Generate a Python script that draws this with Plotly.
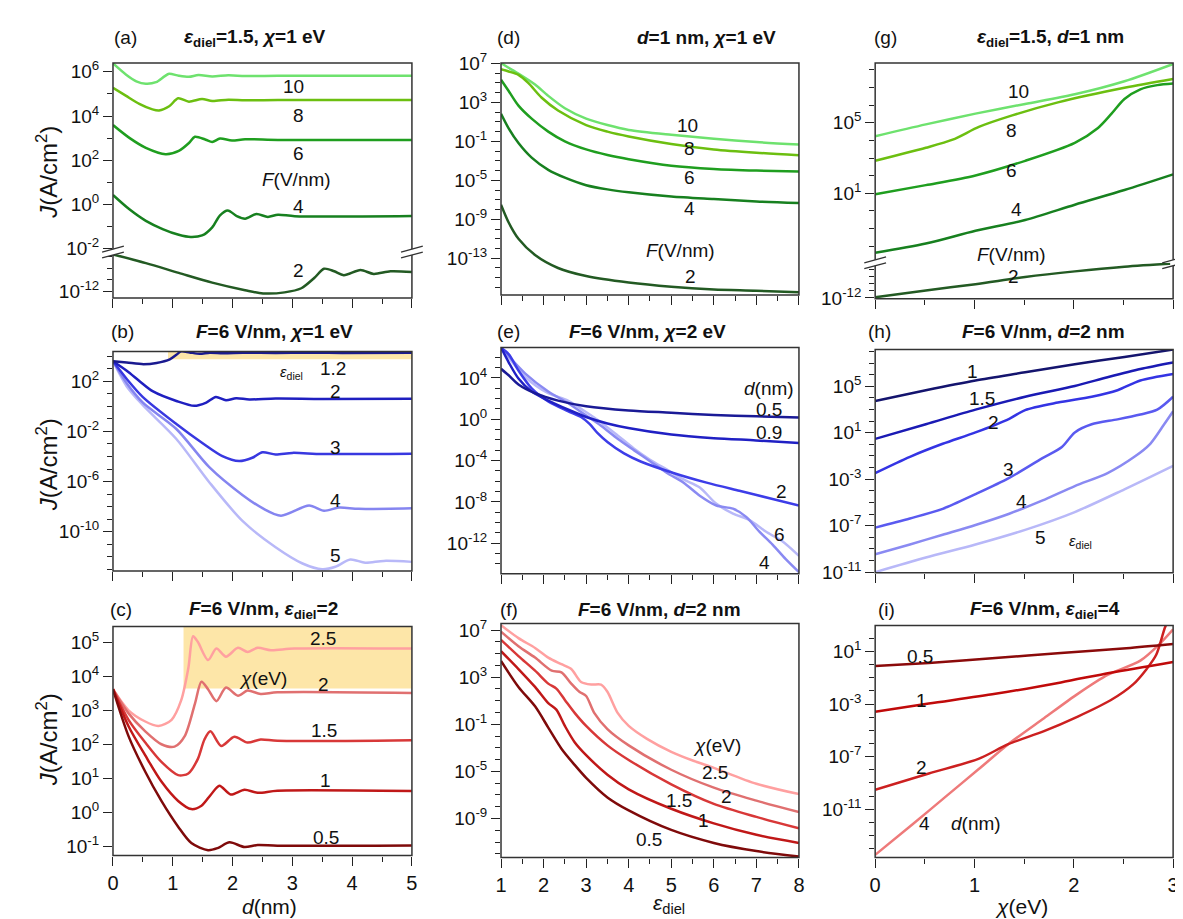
import plotly.graph_objects as go

W, H = 1183, 919
FONT = "Arial, Liberation Sans, sans-serif"

# ---------------- data (log10 of J in A/cm^2) ----------------
# (a) J vs d, eps_diel=1.5, chi=1 eV, curves labelled by F (V/nm)
A10_D = [0, 0.22, 0.39, 0.55, 0.72, 0.86, 0.94, 1.1, 1.27, 1.43, 1.66, 1.93, 2.21, 2.76, 3.86, 5.0]
A10_J = [6.38, 5.87, 5.57, 5.46, 5.53, 5.79, 5.91, 5.82, 5.77, 5.85, 5.79, 5.84, 5.81, 5.82, 5.82, 5.82]
A8_D = [0, 0.22, 0.44, 0.66, 0.77, 0.94, 1.09, 1.27, 1.49, 1.66, 1.93, 2.21, 2.76, 5.0]
A8_J = [5.28, 4.91, 4.55, 4.30, 4.25, 4.44, 4.80, 4.65, 4.77, 4.68, 4.74, 4.71, 4.72, 4.72]
A6_D = [0, 0.28, 0.55, 0.88, 1.1, 1.27, 1.37, 1.55, 1.66, 1.79, 1.99, 2.21, 2.76, 5.0]
A6_J = [3.59, 3.0, 2.56, 2.27, 2.42, 2.78, 3.06, 2.93, 2.83, 2.98, 2.89, 2.95, 2.92, 2.92]
A4_D = [0, 0.28, 0.55, 0.83, 1.1, 1.3, 1.49, 1.66, 1.79, 1.92, 2.07, 2.21, 2.4, 2.59, 2.76, 3.04, 5.0]
A4_J = [0.43, -0.23, -0.74, -1.11, -1.37, -1.47, -1.40, -1.03, -0.49, -0.27, -0.52, -0.64, -0.43, -0.56, -0.46, -0.53, -0.52]
A2_D = [0, 0.55, 1.1, 1.66, 2.21, 2.51, 2.87, 3.15, 3.37, 3.53, 3.7, 3.86, 4.14, 4.36, 4.64, 5.0]
A2_J = [-8.8, -9.56, -10.41, -11.26, -11.92, -12.2, -12.11, -11.75, -10.84, -10.05, -10.27, -10.61, -10.16, -10.5, -10.27, -10.33]

# (d) J vs eps_diel, d=1 nm, chi=1 eV
D10_E = [1, 1.26, 1.49, 1.8, 2.11, 2.5, 3, 3.5, 4, 5, 6, 7, 8]
D10_J = [7.03, 6.33, 5.73, 4.83, 3.67, 2.4, 1.33, 0.67, 0.17, -0.33, -0.73, -1.07, -1.33]
D8_E = [1, 1.18, 1.41, 1.64, 1.95, 2.34, 3, 3.5, 4, 5, 6, 7, 8]
D8_J = [6.4, 6.17, 5.83, 5.0, 3.5, 2.17, 0.67, 0.0, -0.5, -1.27, -1.83, -2.17, -2.43]
D6_E = [1, 1.18, 1.41, 1.72, 2.11, 2.5, 3, 3.5, 4, 5, 6, 7, 8]
D6_J = [5.33, 4.17, 2.67, 1.33, 0.0, -1.0, -1.83, -2.4, -2.83, -3.5, -3.83, -4.0, -4.1]
D4_E = [1, 1.18, 1.41, 1.72, 2.11, 2.5, 3, 3.5, 4, 5, 6, 7, 8]
D4_J = [1.83, 0.33, -1.17, -2.67, -3.93, -4.73, -5.5, -5.93, -6.23, -6.67, -6.93, -7.17, -7.33]
D2_E = [1, 1.18, 1.41, 1.8, 2.34, 3, 4, 5, 6, 7, 8]
D2_J = [-7.5, -9.33, -11.0, -12.67, -14.0, -14.83, -15.5, -15.93, -16.2, -16.33, -16.5]

# (g) J vs chi, eps_diel=1.5, d=1 nm
G10_C = [0, 0.51, 1.01, 1.51, 2.01, 2.51, 3.0]
G10_J = [4.23, 4.91, 5.52, 6.07, 6.62, 7.36, 8.34]
G8_C = [0, 0.51, 0.78, 1.05, 1.38, 1.84, 2.51, 3.0]
G8_J = [2.84, 3.58, 4.04, 4.78, 5.42, 6.16, 6.99, 7.49]
G6_C = [0, 0.51, 1.01, 1.51, 2.01, 2.24, 2.38, 2.51, 2.67, 2.84, 3.0]
G6_J = [0.94, 1.46, 2.01, 2.84, 3.86, 4.69, 5.52, 6.35, 6.9, 7.14, 7.23]
G4_C = [0, 0.51, 1.01, 1.51, 2.01, 2.51, 3.0]
G4_J = [-2.38, -1.86, -1.13, -0.52, 0.35, 1.18, 2.07]
G2_C = [0, 0.51, 1.01, 1.51, 2.01, 2.51, 3.0]
G2_J = [-11.91, -10.93, -10.04, -9.02, -8.22, -7.56, -7.11]

# (b) J vs d, F=6 V/nm, chi=1 eV, curves labelled by eps_diel
B12_D = [0, 0.23, 0.51, 0.73, 0.95, 1.06, 1.14, 1.28, 1.45, 1.62, 1.84, 2.17, 2.72, 3.27, 3.83, 5.0]
B12_J = [3.61, 3.51, 3.38, 3.48, 3.77, 4.13, 4.40, 4.32, 4.21, 4.30, 4.26, 4.29, 4.28, 4.29, 4.28, 4.29]
B2_D = [0, 0.23, 0.45, 0.67, 1.06, 1.36, 1.56, 1.72, 1.89, 2.06, 2.28, 2.72, 3.5, 5.0]
B2_J = [3.61, 2.85, 2.0, 1.2, 0.44, 0.05, 0.31, 0.75, 0.49, 0.65, 0.56, 0.63, 0.6, 0.62]
B3_D = [0, 0.23, 0.5, 1.06, 1.5, 1.83, 2.11, 2.33, 2.5, 2.72, 3.0, 3.5, 5.0]
B3_J = [3.61, 2.2, 0.75, -1.4, -2.94, -3.97, -4.36, -4.1, -3.66, -3.84, -3.71, -3.8, -3.77]
B4_D = [0, 0.23, 0.5, 1.06, 1.61, 2.17, 2.5, 2.81, 3.28, 3.53, 3.78, 4.11, 5.0]
B4_J = [3.61, 1.85, 0.3, -1.8, -4.85, -7.09, -8.13, -8.73, -7.92, -8.34, -8.08, -8.18, -8.13]
B5_D = [0, 0.23, 0.5, 1.06, 1.61, 2.17, 2.72, 3.17, 3.5, 3.72, 3.97, 4.22, 4.53, 5.0]
B5_J = [3.61, 1.6, 0.1, -2.6, -6.05, -9.17, -11.25, -12.55, -13.01, -12.81, -12.23, -12.49, -12.34, -12.42]

# (e) J vs eps_diel, F=6 V/nm, chi=2 eV, curves labelled by d (nm)
E05_E = [1, 1.18, 1.41, 1.8, 2.34, 3, 4, 5, 6, 7, 8]
E05_J = [4.88, 4.25, 3.37, 2.52, 1.80, 1.26, 0.85, 0.63, 0.41, 0.28, 0.16]
E09_E = [1, 1.18, 1.41, 1.72, 2.11, 2.57, 3.0, 3.5, 3.99, 5.0, 6.0, 6.99, 8.0]
E09_J = [6.93, 5.51, 3.94, 2.68, 1.80, 0.94, 0.22, -0.41, -0.85, -1.48, -1.83, -2.05, -2.30]
E2_E = [1, 1.18, 1.41, 1.72, 2.11, 2.57, 2.88, 3.08, 3.27, 3.5, 3.89, 4.28, 5.05, 5.83, 6.6, 7.38, 8.0]
E2_J = [6.93, 6.30, 4.72, 2.99, 1.73, 0.79, 0.22, -0.45, -1.35, -2.20, -3.31, -4.09, -5.20, -6.14, -6.93, -7.72, -8.35]
E4_E = [1, 1.57, 2.11, 2.57, 2.96, 3.35, 3.74, 4.12, 4.51, 4.90, 5.29, 5.67, 6.06, 6.45, 6.76, 7.07, 7.38, 7.69, 8.0]
E4_J = [6.93, 4.41, 2.68, 1.57, 0.47, -0.63, -1.89, -2.99, -4.09, -5.20, -6.14, -7.40, -8.35, -8.66, -9.45, -10.87, -12.13, -13.54, -14.80]
E6_E = [1, 1.57, 2.11, 2.57, 2.96, 3.35, 3.74, 4.12, 4.51, 4.90, 5.29, 5.67, 6.06, 6.45, 6.84, 7.22, 7.61, 8.0]
E6_J = [6.93, 4.09, 2.52, 1.80, 0.79, -0.31, -1.57, -2.83, -3.94, -4.88, -5.83, -6.61, -8.19, -9.13, -9.76, -10.87, -11.81, -13.23]

# (h) J vs chi, F=6 V/nm, d=2 nm, curves labelled by eps_diel
H1_C = [0, 0.51, 1.01, 1.51, 2.01, 2.51, 3.0]
H1_J = [3.74, 4.66, 5.5, 6.2, 6.9, 7.52, 8.16]
H15_C = [0, 0.51, 1.01, 1.51, 2.01, 2.34, 2.67, 3.0]
H15_J = [0.47, 1.73, 2.99, 4.1, 5.03, 5.78, 6.48, 7.04]
H2_C = [0, 0.35, 0.68, 1.01, 1.35, 1.51, 1.84, 2.18, 2.44, 2.67, 3.0]
H2_J = [-2.47, -1.07, 0.05, 1.03, 2.2, 2.95, 3.6, 4.1, 4.66, 5.5, 6.06]
H3_C = [0, 0.35, 0.68, 1.01, 1.35, 1.68, 1.88, 2.01, 2.18, 2.44, 2.67, 2.84, 3.0]
H3_J = [-7.17, -6.38, -5.55, -4.29, -2.89, -1.21, -0.23, 1.03, 1.73, 2.15, 2.57, 2.99, 4.1]
H4_C = [0, 0.35, 0.68, 1.01, 1.35, 1.68, 2.01, 2.34, 2.61, 2.77, 2.91, 3.0]
H4_J = [-9.46, -8.62, -7.78, -6.94, -5.97, -4.85, -3.59, -2.47, -1.07, 0.05, 1.73, 2.85]
H5_C = [0, 0.51, 1.01, 1.51, 2.01, 2.51, 3.0]
H5_J = [-11.0, -9.74, -8.62, -7.36, -5.83, -3.87, -1.85]

# (c) J vs d, F=6 V/nm, eps_diel=2, curves labelled by chi (eV)
C25_D = [0, 0.26, 0.54, 0.76, 0.98, 1.14, 1.26, 1.34, 1.42, 1.59, 1.73, 1.89, 2.09, 2.25, 2.42, 2.64, 3.03, 5.0]
C25_J = [3.63, 3.01, 2.68, 2.55, 2.73, 3.30, 4.25, 5.19, 5.02, 4.49, 4.83, 4.59, 4.85, 4.73, 4.85, 4.78, 4.83, 4.83]
C2_D = [0, 0.26, 0.54, 0.81, 1.03, 1.2, 1.37, 1.48, 1.59, 1.73, 1.89, 2.09, 2.25, 2.47, 2.75, 5.0]
C2_J = [3.63, 2.92, 2.39, 2.01, 1.94, 2.25, 3.20, 3.85, 3.63, 3.28, 3.68, 3.44, 3.59, 3.49, 3.54, 3.52]
C15_D = [0, 0.26, 0.54, 0.81, 1.09, 1.26, 1.42, 1.53, 1.63, 1.81, 2.03, 2.25, 2.47, 2.75, 5.0]
C15_J = [3.63, 2.73, 2.06, 1.49, 1.10, 1.15, 1.58, 2.15, 2.39, 1.96, 2.23, 2.06, 2.15, 2.11, 2.13]
C1_D = [0, 0.26, 0.54, 0.81, 1.09, 1.31, 1.48, 1.64, 1.78, 1.97, 2.2, 2.42, 2.75, 5.0]
C1_J = [3.63, 2.54, 1.68, 0.91, 0.34, 0.10, 0.20, 0.53, 0.79, 0.53, 0.67, 0.58, 0.64, 0.63]
C05_D = [0, 0.26, 0.54, 0.81, 1.09, 1.31, 1.59, 1.75, 1.95, 2.2, 2.42, 2.75, 5.0]
C05_J = [3.63, 2.25, 1.20, 0.34, -0.42, -0.90, -1.11, -1.05, -0.88, -1.02, -0.96, -0.98, -0.97]

# (f) J vs eps_diel, F=6 V/nm, d=2 nm, curves labelled by chi (eV)
F25_E = [1, 1.41, 1.8, 2.11, 2.42, 2.65, 2.88, 3.12, 3.35, 3.5, 3.74, 4, 4.43, 5, 5.52, 6, 7, 8]
F25_J = [7.41, 6.31, 5.48, 4.66, 4.10, 3.69, 2.59, 2.37, 2.37, 1.76, -0.03, -1.14, -2.24, -3.34, -4.10, -4.70, -6.05, -6.93]
F2_E = [1, 1.41, 1.8, 2.19, 2.42, 2.65, 2.84, 3, 3.19, 3.5, 4, 5, 6, 7, 8]
F2_J = [6.86, 5.62, 4.66, 3.55, 3.41, 2.45, 1.76, 1.4, -0.03, -1.41, -2.79, -4.86, -6.38, -7.48, -8.45]
F15_E = [1, 1.41, 1.8, 2.11, 2.3, 2.5, 2.73, 3, 3.5, 4, 5, 6, 7, 8]
F15_J = [6.17, 4.79, 3.55, 2.45, 2.03, 1.07, -0.03, -1.14, -2.79, -4.03, -6.10, -7.76, -8.86, -9.83]
F1_E = [1, 1.41, 1.8, 2.11, 2.3, 2.5, 2.73, 3, 3.5, 4, 5, 6, 7, 8]
F1_J = [5.21, 3.69, 2.17, 0.79, 0.24, -1.14, -2.52, -3.62, -5.28, -6.52, -8.17, -9.41, -10.38, -11.07]
F05_E = [1, 1.41, 1.8, 2.11, 2.42, 2.73, 3, 3.5, 4, 5, 6, 7, 8]
F05_J = [4.38, 2.17, 0.52, -1.28, -3.07, -4.45, -5.55, -7.21, -8.31, -9.97, -11.07, -11.76, -12.23]

# (i) J vs chi, F=6 V/nm, eps_diel=4, curves labelled by d (nm)
I05_C = [0, 0.54, 1.21, 1.87, 2.53, 3.0]
I05_J = [-0.11, 0.13, 0.5, 0.88, 1.25, 1.57]
I1_C = [0, 0.54, 1.21, 1.87, 2.37, 3.0]
I1_J = [-3.58, -2.96, -2.22, -1.35, -0.61, 0.21]
I2_C = [0, 0.54, 1.04, 1.34, 1.7, 2.04, 2.37, 2.6, 2.73, 2.83, 2.92, 2.97]
I2_J = [-9.52, -8.28, -7.17, -6.05, -5.06, -3.95, -2.71, -1.48, -0.36, 0.75, 2.86, 3.6]
I4_C = [0, 0.38, 0.71, 1.04, 1.34, 1.7, 2.04, 2.34, 2.67, 2.87, 3.0]
I4_J = [-14.47, -12.12, -10.04, -7.96, -6.05, -4.07, -2.22, -0.78, 0.31, 1.62, 2.68]

# shaded regions: (x0, logJ0) - lower-left corners
B_SHADE = [0.92, 3.77]
C_SHADE = [1.18, 3.65]

# colours
GREENS = ['#6ee26e', '#6cbf10', '#1f9e1f', '#17801f', '#235a23']
SHADE = '#fde6a8'

# ---------------- geometry helpers ----------------
def fx(px):
    return px / W

def fy(py):
    return 1 - py / H

fig = go.Figure()

def add(xs, logs, color, xa, ya, width=2.5):
    fig.add_trace(go.Scatter(
        x=xs, y=[10 ** v for v in logs], mode='lines',
        line=dict(color=color, width=width, shape='spline', smoothing=0.8),
        xaxis=xa, yaxis=ya, hoverinfo='skip', showlegend=False))

def yax(dom, rng, majors, minors, anchor):
    return dict(type='log', domain=[fy(dom[1]), fy(dom[0])], range=rng, anchor=anchor,
                tickmode='array', tickvals=[10.0 ** m for m in majors],
                ticktext=['10<sup>%d</sup>' % m for m in majors],
                ticks='outside', ticklen=9, tickwidth=1.3, tickcolor='#222',
                minor=dict(tickmode='array', tickvals=[10.0 ** m for m in minors],
                           ticks='outside', ticklen=5, tickwidth=1.1, tickcolor='#222', showgrid=False),
                showgrid=False, zeroline=False, showline=False,
                tickfont=dict(size=19, family=FONT, color='#111'), fixedrange=True)

def xax(dom, rng, majors, minors, anchor, labels):
    return dict(domain=[fx(dom[0]), fx(dom[1])], range=rng, anchor=anchor,
                tickmode='array', tickvals=majors, ticktext=[str(m) for m in majors],
                showticklabels=labels, ticks='outside', ticklen=9, tickwidth=1.3, tickcolor='#222',
                minor=dict(tickmode='array', tickvals=minors, ticks='outside', ticklen=5,
                           tickwidth=1.1, tickcolor='#222', showgrid=False),
                showgrid=False, zeroline=False, showline=False,
                tickfont=dict(size=20, family=FONT, color='#111'), fixedrange=True)

COL1, COL2, COL3 = [100, 402], [492, 793], [870, 1171]
X1_MAJ, X1_MIN = [0, 1, 2, 3, 4, 5], [0.5, 1.5, 2.5, 3.5, 4.5]
X2_MAJ, X2_MIN = [1, 2, 3, 4, 5, 6, 7, 8], [1.5, 2.5, 3.5, 4.5, 5.5, 6.5, 7.5]
X3_MAJ, X3_MIN = [0, 1, 2, 3], [0.5, 1.5, 2.5]

def others(lo, hi, majors):
    return [k for k in range(lo, hi + 1) if k not in majors]

lay = {}
# (a)
lay['xaxis'] = xax(COL1, [0, 5], X1_MAJ, X1_MIN, 'y2', False)
lay['yaxis'] = yax([43, 237], [-2.15, 6.4], [6, 4, 2, 0, -2], [5, 3, 1, -1], 'x')
lay['yaxis2'] = yax([237, 284], [-12.59, -8.6], [-12], [-11, -10, -9], 'x')
# (d)
lay['xaxis2'] = xax(COL2, [1, 8], X2_MAJ, X2_MIN, 'y3', False)
lay['yaxis3'] = yax([43, 281], [-16.77, 7.05], [7, 3, -1, -5, -9, -13], others(-16, 7, [7, 3, -1, -5, -9, -13]), 'x2')
# (g)
lay['xaxis3'] = xax(COL3, [0, 3], X3_MAJ, X3_MIN, 'y5', False)
lay['yaxis4'] = yax([43, 248], [-2.95, 8.4], [5, 1, -3], [8, 7, 6, 4, 3, 2, 0, -1, -2], 'x3')
lay['yaxis5'] = yax([248, 285], [-12.13, -7.0], [-12], [-11, -10, -9, -8], 'x3')
# (b)
lay['xaxis4'] = xax(COL1, [0, 5], X1_MAJ, X1_MIN, 'y6', False)
lay['yaxis6'] = yax([339, 564], [-13.14, 4.39], [2, -2, -6, -10], others(-13, 4, [2, -2, -6, -10]), 'x4')
# (e)
lay['xaxis5'] = xax(COL2, [1, 8], X2_MAJ, X2_MIN, 'y7', False)
lay['yaxis7'] = yax([335, 567], [-14.96, 6.93], [4, 0, -4, -8, -12], others(-14, 6, [4, 0, -4, -8, -12]), 'x5')
# (h)
lay['xaxis6'] = xax(COL3, [0, 3], X3_MAJ, X3_MIN, 'y8', False)
lay['yaxis8'] = yax([337, 566], [-11.06, 8.16], [5, 1, -3, -7, -11], others(-10, 8, [5, 1, -3, -7, -11]), 'x6')
# (c)
lay['xaxis7'] = xax(COL1, [0, 5], X1_MAJ, X1_MIN, 'y9', True)
lay['yaxis9'] = yax([621, 856], [-1.27, 5.48], [5, 4, 3, 2, 1, 0, -1], [], 'x7')
# (f)
lay['xaxis8'] = xax(COL2, [1, 8], X2_MAJ, X2_MIN, 'y10', True)
lay['yaxis10'] = yax([618, 858], [-12.31, 7.55], [7, 3, -1, -5, -9], others(-12, 7, [7, 3, -1, -5, -9]), 'x8')
# (i)
lay['xaxis9'] = xax(COL3, [0, 3], X3_MAJ, X3_MIN, 'y11', True)
lay['yaxis11'] = yax([620, 858], [-14.67, 2.98], [1, -3, -7, -11], others(-14, 2, [1, -3, -7, -11]), 'x9')

# ---------------- traces ----------------
# (a)
add(A10_D, A10_J, GREENS[0], 'x', 'y')
add(A8_D, A8_J, GREENS[1], 'x', 'y')
add(A6_D, A6_J, GREENS[2], 'x', 'y')
add(A4_D, A4_J, GREENS[3], 'x', 'y')
add(A2_D, A2_J, GREENS[4], 'x', 'y2')
# (d)
add(D10_E, D10_J, GREENS[0], 'x2', 'y3')
add(D8_E, D8_J, GREENS[1], 'x2', 'y3')
add(D6_E, D6_J, GREENS[2], 'x2', 'y3')
add(D4_E, D4_J, GREENS[3], 'x2', 'y3')
add(D2_E, D2_J, GREENS[4], 'x2', 'y3')
# (g)
add(G10_C, G10_J, GREENS[0], 'x3', 'y4')
add(G8_C, G8_J, GREENS[1], 'x3', 'y4')
add(G6_C, G6_J, GREENS[2], 'x3', 'y4')
add(G4_C, G4_J, GREENS[3], 'x3', 'y4')
add(G2_C, G2_J, GREENS[4], 'x3', 'y5')
# (b)
add(B5_D, B5_J, '#b8b8f8', 'x4', 'y6')
add(B4_D, B4_J, '#8585f0', 'x4', 'y6')
add(B3_D, B3_J, '#3838e0', 'x4', 'y6')
add(B2_D, B2_J, '#1f1fc0', 'x4', 'y6')
add(B12_D, B12_J, '#1a1a90', 'x4', 'y6')
# (e)
add(E6_E, E6_J, '#b8b8f8', 'x5', 'y7')
add(E4_E, E4_J, '#8a8af2', 'x5', 'y7')
add(E2_E, E2_J, '#3d3de8', 'x5', 'y7')
add(E09_E, E09_J, '#2020c4', 'x5', 'y7')
add(E05_E, E05_J, '#1a1a96', 'x5', 'y7')
# (h)
add(H5_C, H5_J, '#b8b8f8', 'x6', 'y8')
add(H4_C, H4_J, '#8a8af2', 'x6', 'y8')
add(H3_C, H3_J, '#5a5af0', 'x6', 'y8')
add(H2_C, H2_J, '#3434e4', 'x6', 'y8')
add(H15_C, H15_J, '#1a1ab4', 'x6', 'y8')
add(H1_C, H1_J, '#14146e', 'x6', 'y8')
# (c)
add(C25_D, C25_J, '#ffa0a0', 'x7', 'y9')
add(C2_D, C2_J, '#e07070', 'x7', 'y9')
add(C15_D, C15_J, '#d83838', 'x7', 'y9')
add(C1_D, C1_J, '#c01818', 'x7', 'y9')
add(C05_D, C05_J, '#7f0a0a', 'x7', 'y9')
# (f)
add(F25_E, F25_J, '#ffa0a0', 'x8', 'y10')
add(F2_E, F2_J, '#e07070', 'x8', 'y10')
add(F15_E, F15_J, '#d83838', 'x8', 'y10')
add(F1_E, F1_J, '#c01818', 'x8', 'y10')
add(F05_E, F05_J, '#7f0a0a', 'x8', 'y10')
# (i)
add(I4_C, I4_J, '#ee7a7a', 'x9', 'y11')
add(I2_C, I2_J, '#cc2020', 'x9', 'y11')
add(I1_C, I1_J, '#c00a0a', 'x9', 'y11')
add(I05_C, I05_J, '#8b0a0a', 'x9', 'y11')

# ---------------- shapes ----------------
shapes = []
shapes.append(dict(type='rect', xref='x4', yref='y6', x0=B_SHADE[0], x1=5, y0=10 ** B_SHADE[1], y1=10 ** 4.39,
                   fillcolor=SHADE, line=dict(width=0), layer='below'))
shapes.append(dict(type='rect', xref='x7', yref='y9', x0=C_SHADE[0], x1=5, y0=10 ** C_SHADE[1], y1=10 ** 5.48,
                   fillcolor=SHADE, line=dict(width=0), layer='below'))

frames = [(COL1, [43, 284]), (COL2, [43, 281]), (COL3, [43, 285]),
          (COL1, [339, 564]), (COL2, [335, 567]), (COL3, [337, 566]),
          (COL1, [621, 856]), (COL2, [618, 858]), (COL3, [620, 858])]
for (cx, cy) in frames:
    shapes.append(dict(type='rect', xref='paper', yref='paper', x0=fx(cx[0]), x1=fx(cx[1]),
                       y0=fy(cy[1]), y1=fy(cy[0]), line=dict(color='#333', width=1.5),
                       fillcolor='rgba(0,0,0,0)', layer='above'))

# axis-break marks
for (bx, by) in [(100, 237), (402, 237), (870, 248), (1171, 248)]:
    shapes.append(dict(type='rect', xref='paper', yref='paper', x0=fx(bx - 3), x1=fx(bx + 3),
                       y0=fy(by + 3), y1=fy(by - 3), fillcolor='white', line=dict(width=0), layer='above'))
    for off in (-3, 3):
        shapes.append(dict(type='line', xref='paper', yref='paper', x0=fx(bx - 11), x1=fx(bx + 11),
                           y0=fy(by + off + 3), y1=fy(by + off - 3), line=dict(color='#333', width=1.3),
                           layer='above'))

# ---------------- annotations ----------------
ann = []

def txt(s, x, y, size=17, angle=0, color='#111'):
    ann.append(dict(text=s, x=fx(x), y=fy(y), xref='paper', yref='paper', showarrow=False,
                    font=dict(size=size, family=FONT, color=color), xanchor='center', yanchor='middle',
                    textangle=angle))

FV = '<i>F</i>(V/nm)'
EPS = '<i>ε</i><sub>diel</sub>'
CHI = '<i>χ</i>(eV)'
DNM = '<i>d</i>(nm)'

for s, x, y in [('(a)', 113, 17), ('(d)', 500, 17), ('(g)', 880, 17),
                ('(b)', 110, 318), ('(e)', 500, 318), ('(h)', 874, 318),
                ('(c)', 108, 604), ('(f)', 500, 604), ('(i)', 881, 604)]:
    txt(s, x, y, size=19)
for s, x, y in [('<b>' + EPS + '=1.5, <i>χ</i>=1 eV</b>', 243, 17),
                ('<b><i>d</i>=1 nm, <i>χ</i>=1 eV</b>', 700, 17),
                ('<b>' + EPS + '=1.5, <i>d</i>=1 nm</b>', 1047, 17),
                ('<b><i>F</i>=6 V/nm, <i>χ</i>=1 eV</b>', 263, 318),
                ('<b><i>F</i>=6 V/nm, <i>χ</i>=2 eV</b>', 640, 318),
                ('<b><i>F</i>=6 V/nm, <i>d</i>=2 nm</b>', 1040, 318),
                ('<b><i>F</i>=6 V/nm, ' + EPS + '=2</b>', 252, 604),
                ('<b><i>F</i>=6 V/nm, <i>d</i>=2 nm</b>', 652, 604),
                ('<b><i>F</i>=6 V/nm, ' + EPS + '=4</b>', 1042, 604)]:
    txt(s, x, y, size=19)

for y in (155, 455, 737):
    txt('<i>J</i>(A/cm<sup>2</sup>)', 33, y, size=24, angle=-90)
txt(DNM, 258, 908, size=21)
txt(EPS, 662, 906, size=21)
txt(CHI, 1018, 908, size=21)

labels = [
    # (a)
    ('10', 282, 67), ('8', 287, 97), ('6', 287, 136), (FV, 285, 163), ('4', 287, 190), ('2', 287, 256),
    # (d)
    ('10', 680, 107), ('8', 682, 131), ('6', 682, 161), ('4', 682, 192), (FV, 673, 235), ('2', 683, 262),
    # (g)
    ('10', 1015, 72), ('8', 1008, 112), ('6', 1008, 153), ('4', 1013, 193), (FV, 1008, 240), ('2', 1010, 262),
    # (b)
    (EPS, 280, 361), ('1.2', 322, 356), ('2', 325, 380), ('3', 325, 437), ('4', 325, 492), ('5', 325, 548),
    # (e)
    (DNM, 763, 377), ('0.5', 763, 398), ('0.9', 763, 422), ('2', 775, 483), ('6', 773, 527), ('4', 758, 555),
    # (h)
    ('1', 968, 360), ('1.5', 978, 387), ('2', 990, 412), ('3', 1005, 460), ('4', 1018, 493), ('5', 1037, 530),
    (EPS, 1077, 534),
    # (c)
    ('2.5', 312, 633), (CHI, 252, 674), ('2', 313, 681), ('1.5', 313, 728), ('1', 315, 779), ('0.5', 315, 837),
    # (f)
    (CHI, 710, 743), ('2.5', 708, 771), ('2', 720, 795), ('1.5', 672, 800), ('1', 697, 820), ('0.5', 642, 840),
    # (i)
    ('0.5', 915, 652), ('1', 917, 697), ('2', 917, 766), ('4', 920, 823), (DNM, 972, 823),
]
for s, x, y in labels:
    small = s == EPS
    txt(s, x, y, size=15 if small else 19)

fig.update_layout(
    width=W, height=H, margin=dict(l=0, r=0, t=0, b=0),
    paper_bgcolor='white', plot_bgcolor='white', showlegend=False,
    font=dict(family=FONT, color='#111'),
    shapes=shapes, annotations=ann, **lay)

fig.write_html("out.html")
